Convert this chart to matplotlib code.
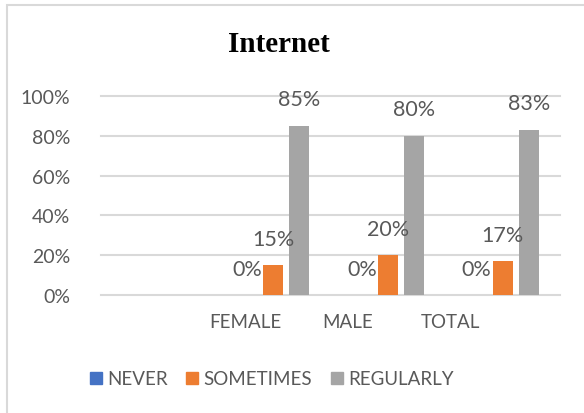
import matplotlib.pyplot as plt
from matplotlib.patches import Rectangle
from matplotlib.lines import Line2D
import numpy as np

plt.rcParams['font.family'] = ['Lato', 'DejaVu Sans']

categories = ['', 'FEMALE', 'MALE', 'TOTAL']
series = ['NEVER', 'SOMETIMES', 'REGULARLY']
never = [None, 0.0, 0.0, 0.0]
sometimes = [None, 0.15, 0.20, 0.17]
regularly = [None, 0.85, 0.80, 0.83]
colors = ['#4472C4', '#ED7D31', '#A5A5A5']
txt = '#595959'

fig = plt.figure(figsize=(5.84, 4.14), dpi=100)
# light chart frame (cut off on right and bottom)
fig.patches.append(Rectangle((7 / 584, -0.05), 1.1, 1 - 6 / 414 + 0.05,
                             transform=fig.transFigure, fill=False,
                             edgecolor='#d9d9d9', lw=1.5))

ax = fig.add_axes([101 / 584, 1 - 296 / 414, (560 - 101) / 584, (296 - 97) / 414])
ax.set_xlim(-0.5, 3.5)
ax.set_ylim(0, 1)

x = np.arange(len(categories))
w = 0.174
step = 0.227
for k, vals in enumerate([never, sometimes, regularly]):
    for i, v in enumerate(vals):
        if v is None:
            continue
        xi = x[i] + (k - 1) * step
        ax.bar(xi, v, width=w, color=colors[k], zorder=2)
        ax.annotate(f'{v:.0%}', (xi, v), xytext=(0, 19), textcoords='offset points',
                    ha='center', va='center', fontsize=15.5, color=txt)

ax.set_yticks(np.arange(0, 1.01, 0.2))
ax.set_yticklabels([f'{t:.0%}' for t in np.arange(0, 1.01, 0.2)])
ax.grid(axis='y', color='#d9d9d9', lw=1.5, zorder=0)
for gl in ax.get_ygridlines():
    gl.set_clip_on(False)
ax.tick_params(length=0, labelsize=14, labelcolor=txt)
ax.tick_params(axis='y', pad=22)
ax.tick_params(axis='x', pad=13, labelsize=13.5)

tick_pos = 0.755 + 0.893 * (x[1:] - 1)
ax.set_xticks(tick_pos)
ax.set_xticklabels(categories[1:])
for s in ax.spines.values():
    s.set_visible(False)

fig.text(279 / 584, 1 - 44 / 414, 'Internet', ha='center', va='center',
         fontsize=21, fontweight='bold', family='Liberation Serif')

handles = [Line2D([], [], marker='s', ls='', markersize=9, color=c) for c in colors]
fig.legend(handles, series, loc='center', bbox_to_anchor=(271 / 584, 1 - 380 / 414),
           ncol=3, frameon=False, fontsize=13.5, labelcolor=txt, handlelength=0.8,
           handletextpad=0.2, columnspacing=0.9)

fig.savefig('out.png', dpi=100)
